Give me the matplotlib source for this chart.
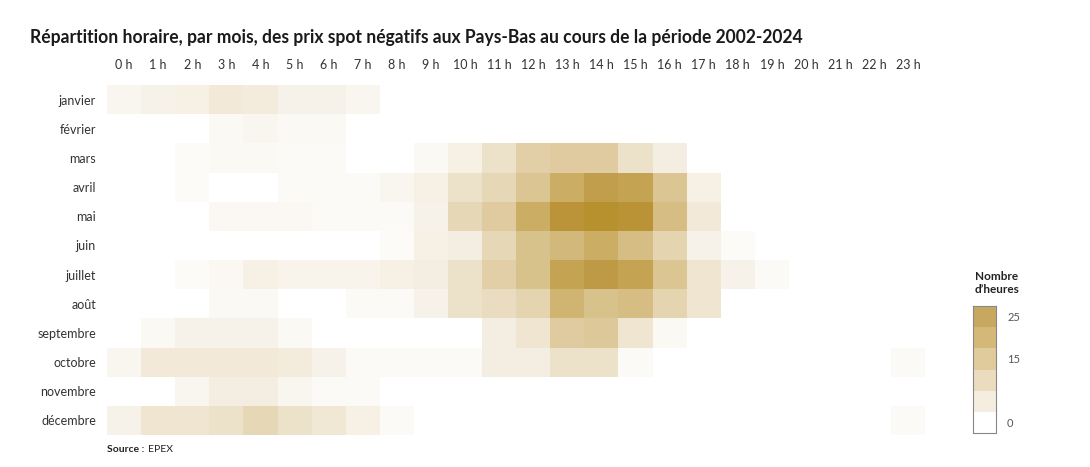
import numpy as np
import matplotlib
matplotlib.use("Agg")
import matplotlib.pyplot as plt
from matplotlib.colors import LinearSegmentedColormap

plt.rcParams["font.family"] = ["Lato", "DejaVu Sans"]

MONTHS = ["janvier", "février", "mars", "avril", "mai", "juin", "juillet",
          "août", "septembre", "octobre", "novembre", "décembre"]
HOURS = [f"{h} h" for h in range(24)]

# nombre d'heures de prix négatifs (mois x heure 0..23)
janvier   = [1.5, 2, 2.5, 4, 3.5, 2, 2, 1.5, 0, 0, 0, 0, 0, 0, 0, 0, 0, 0, 0, 0, 0, 0, 0, 0]
fevrier   = [0, 0, 0, 1, 1.5, 1, 1, 0, 0, 0, 0, 0, 0, 0, 0, 0, 0, 0, 0, 0, 0, 0, 0, 0]
mars      = [0, 0, 0.7, 1, 1, 0.8, 0.8, 0, 0, 1, 2.5, 6, 10, 11, 11, 6, 3, 0, 0, 0, 0, 0, 0, 0]
avril     = [0, 0, 0.7, 0, 0, 0.8, 0.8, 0.8, 1.5, 2.5, 6, 8, 13, 19, 23, 22, 13, 2.5, 0, 0, 0, 0, 0, 0]
mai       = [0, 0, 0, 1.2, 1.2, 1.2, 0.8, 0.8, 0.8, 2, 8, 11, 19, 26, 28, 27, 15, 4, 0, 0, 0, 0, 0, 0]
juin      = [0, 0, 0, 0, 0, 0, 0, 0, 0.7, 2.5, 3, 8, 14, 16, 19, 15, 9, 2, 0.7, 0, 0, 0, 0, 0]
juillet   = [0, 0, 0.7, 1.2, 2.5, 1.8, 1.8, 1.8, 2.5, 3, 6, 10, 14, 22, 24, 22, 13, 5, 2, 0.8, 0, 0, 0, 0]
aout      = [0, 0, 0, 1, 1, 0, 0, 0.8, 0.8, 2, 6, 7, 9, 17, 14, 15, 9, 5, 0, 0, 0, 0, 0, 0]
septembre = [0, 1, 2, 2, 2, 1, 0, 0, 0, 0, 0, 3, 5, 11, 12, 5, 1, 0, 0, 0, 0, 0, 0, 0]
octobre   = [1.5, 4, 4, 4, 4, 3.5, 2, 0.8, 0.8, 0.8, 0.8, 3, 3, 6, 6, 0.8, 0, 0, 0, 0, 0, 0, 0, 0.8]
novembre  = [0, 0, 1.5, 3, 3, 1.5, 0.8, 0.8, 0, 0, 0, 0, 0, 0, 0, 0, 0, 0, 0, 0, 0, 0, 0, 0]
decembre  = [2, 5, 5, 6, 8, 6, 4.5, 2.5, 0.8, 0, 0, 0, 0, 0, 0, 0, 0, 0, 0, 0, 0, 0, 0, 0.8]

LEGEND_TICKS = [0, 15, 25]

data = np.array([janvier, fevrier, mars, avril, mai, juin, juillet,
                 aout, septembre, octobre, novembre, decembre])

VMAX = 28
stops = [(0, "#ffffff"), (1, "#fbf9f4"), (2, "#f7f2e9"), (3.5, "#f3ebdc"),
         (5.5, "#ede3cd"), (8, "#e6d8b7"), (11, "#e0cba0"), (14, "#d8c28c"),
         (18, "#cdb06a"), (22, "#c4a352"), (25, "#bc9640"), (28, "#b8912f")]
cmap = LinearSegmentedColormap.from_list("epex", [(v / VMAX, c) for v, c in stops])

fig = plt.figure(figsize=(10.9, 4.67), dpi=100)
W, H = 1090, 467

fig.text(30 / W, 1 - 37 / H, "Répartition horaire, par mois, des prix spot négatifs aux Pays-Bas au cours de la période 2002-2024",
         fontsize=12.65, weight="bold", color="#1a1a1a", va="center", ha="left")

ax = fig.add_axes([107 / W, 1 - 435 / H, 818.4 / W, 350 / H])
ax.pcolormesh(np.arange(25), np.arange(13), data, cmap=cmap, vmin=0, vmax=VMAX,
              shading="flat", edgecolors="none")
ax.set_xlim(0, 24); ax.set_ylim(12, 0)
ax.set_xticks(np.arange(24) + 0.5)
ax.set_xticklabels(HOURS, fontsize=9, color="#333333")
ax.xaxis.tick_top()
ax.set_yticks(np.arange(12) + 0.5)
ax.set_yticklabels(MONTHS, fontsize=9, color="#333333")
ax.tick_params(length=0, pad=8)
ax.tick_params(axis="x", pad=10)
for s in ax.spines.values():
    s.set_visible(False)

src = fig.text(107 / W, 1 - 450 / H, "Source :", fontsize=7.5, weight="bold", color="#222222", va="center")
r = fig.canvas.get_renderer()
bb = src.get_window_extent(renderer=r)
fig.text((bb.x1 + 4) / W, 1 - 450 / H, "EPEX", fontsize=7.5, color="#222222", va="center")

# légende en paliers
lax = fig.add_axes([973 / W, 1 - 433 / H, 23 / W, 127 / H])
band_colors = ["#ffffff", "#f5eee0", "#ebdcbf", "#e0cb9c", "#d4b878", "#c8a860"]
band_vals = [0, 5, 10, 15, 20, 25]
lax.bar([0] * len(band_vals), [5] * len(band_vals), bottom=[v - 2.5 for v in band_vals],
        width=1, color=band_colors, edgecolor="none", align="center")
lax.set_xlim(-0.5, 0.5); lax.set_ylim(-2.5, 27.5)
lax.set_xticks([])
lax.yaxis.tick_right()
lax.set_yticks(LEGEND_TICKS)
lax.set_yticklabels([str(t) for t in LEGEND_TICKS], fontsize=8, color="#555555")
lax.tick_params(length=0, pad=8)
for s in lax.spines.values():
    s.set_color("#888888"); s.set_linewidth(0.8)
fig.text(997 / W, 1 - 283 / H, "Nombre\nd’heures", fontsize=8.5, weight="bold",
         color="#222222", ha="center", va="center", linespacing=1.2)

fig.savefig("out.png", dpi=100)
